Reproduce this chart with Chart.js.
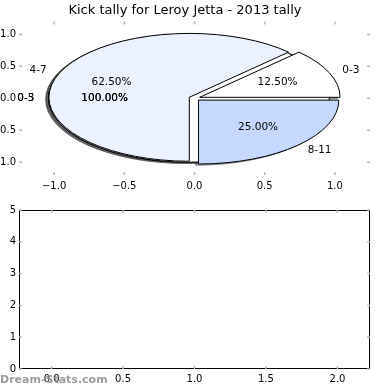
<!DOCTYPE html>
<html>
<head>
<meta charset="utf-8">
<script src="https://cdn.jsdelivr.net/npm/chart.js@4"></script>
<style>
  html, body { margin: 0; padding: 0; background: #fff; }
  canvas { display: block; }
</style>
</head>
<body>
<canvas id="pieChart" width="390" height="200"></canvas>
<canvas id="emptyChart" width="390" height="190"></canvas>
<script>
// ---- data ----
const chartTitle = 'Kick tally for Leroy Jetta - 2013 tally';
const categories = ['0-3', '4-7', '8-11'];
const kicks = [1, 5, 2];
const overlayCategories = ['0-3', '0-5'];   // single-slice pies drawn underneath
const overlayKicks = [1, 1];
const sliceColors = ['#ffffff', '#ebf1ff', '#c6d8ff'];
const pieXTicks = [-1.0, -0.5, 0.0, 0.5, 1.0];
const pieYTicks = [-1.0, -0.5, 0.0, 0.5, 1.0];
const lowerXTicks = [0.0, 0.5, 1.0, 1.5, 2.0];
const lowerYTicks = [0, 1, 2, 3, 4, 5];
const watermark = 'Dream-Stats.com';

const FONT = 'DejaVu Sans';
Chart.defaults.font.family = FONT;
Chart.defaults.color = '#000';

const fmt1 = v => (v < 0 ? '\u2212' : '') + Math.abs(v).toFixed(1);

// pies in drawing order
const pies = [];
overlayCategories.forEach((c, i) => pies.push({ labels: [c], values: [overlayKicks[i]], colors: sliceColors }));
pies.push({ labels: categories, values: kicks, colors: sliceColors });

const EXPLODE = 0.04, SHADOW = 0.02;

function shade(hex) {
  const r = parseInt(hex.slice(1, 3), 16), g = parseInt(hex.slice(3, 5), 16), b = parseInt(hex.slice(5, 7), 16);
  return `rgba(${Math.round(r * 0.3)},${Math.round(g * 0.3)},${Math.round(b * 0.3)},0.5)`;
}

const piePlugin = {
  id: 'ellipsePie',
  afterDatasetsDraw(chart) {
    const { ctx } = chart;
    const xs = chart.scales.x, ys = chart.scales.y;
    const px = v => xs.getPixelForValue(v), py = v => ys.getPixelForValue(v);
    const rx = px(1) - px(0), ry = py(0) - py(1);
    const wedges = [];
    pies.forEach(p => {
      const total = p.values.reduce((a, b) => a + b, 0);
      let start = 0;
      p.values.forEach((v, i) => {
        const span = 360 * v / total;
        const mid = (start + span / 2) * Math.PI / 180;
        wedges.push({
          cx: EXPLODE * Math.cos(mid), cy: EXPLODE * Math.sin(mid),
          t1: start * Math.PI / 180, t2: (start + span) * Math.PI / 180,
          full: span >= 360, mid, color: p.colors[i % p.colors.length],
          label: p.labels[i], pct: 100 * v / total
        });
        start += span;
      });
    });
    const path = (w, o) => {
      const X = px(w.cx + o), Y = py(w.cy + o);
      ctx.beginPath();
      if (w.full) {
        ctx.ellipse(X, Y, rx, ry, 0, 0, Math.PI * 2);
      } else {
        ctx.moveTo(X, Y);
        ctx.ellipse(X, Y, rx, ry, 0, -w.t1, -w.t2, true);
        ctx.closePath();
      }
    };
    ctx.save();
    ctx.lineWidth = 1;
    ctx.lineJoin = 'miter';
    wedges.forEach(w => {
      path(w, -SHADOW);
      ctx.fillStyle = shade(w.color); ctx.fill();
      ctx.strokeStyle = shade(w.color); ctx.stroke();
    });
    wedges.forEach(w => {
      path(w, 0);
      ctx.fillStyle = w.color; ctx.fill();
      ctx.strokeStyle = '#000'; ctx.stroke();
    });
    ctx.fillStyle = '#000';
    ctx.font = `10.5px "${FONT}"`;
    ctx.textBaseline = 'middle';
    wedges.forEach(w => {
      const lx = w.cx + 1.1 * Math.cos(w.mid), ly = w.cy + 1.1 * Math.sin(w.mid);
      ctx.textAlign = lx > 0 ? 'left' : 'right';
      ctx.fillText(w.label, px(lx), py(ly));
      const tx = w.cx + 0.6 * Math.cos(w.mid), ty = w.cy + 0.6 * Math.sin(w.mid);
      ctx.textAlign = 'center';
      ctx.fillText(w.pct.toFixed(2) + '%', px(tx), py(ty));
    });
    ctx.restore();
  }
};

function tickMarks(frame) {
  return {
    id: 'tickMarks',
    afterDraw(chart) {
      const { ctx, chartArea: a } = chart;
      const xs = chart.scales.x, ys = chart.scales.y;
      ctx.save();
      if (frame) {
        ctx.strokeStyle = '#000'; ctx.lineWidth = 1;
        ctx.strokeRect(Math.round(a.left) + 0.5, Math.round(a.top) + 0.5,
          Math.round(a.right - a.left) - 1, Math.round(a.bottom - a.top) - 1);
      }
      ctx.strokeStyle = '#b8b8b8'; ctx.lineWidth = 1.5;
      const L = 3;
      xs.ticks.forEach(t => {
        const X = xs.getPixelForValue(t.value);
        ctx.beginPath();
        ctx.moveTo(X, a.top); ctx.lineTo(X, a.top + L);
        ctx.moveTo(X, a.bottom); ctx.lineTo(X, a.bottom - L);
        ctx.stroke();
      });
      ys.ticks.forEach(t => {
        const Y = ys.getPixelForValue(t.value);
        ctx.beginPath();
        ctx.moveTo(a.left, Y); ctx.lineTo(a.left + L, Y);
        ctx.moveTo(a.right, Y); ctx.lineTo(a.right - L, Y);
        ctx.stroke();
      });
      ctx.restore();
    }
  };
}

function axis(min, max, ticks, fmt, size, pad, fixed) {
  return {
    type: 'linear', min, max,
    afterBuildTicks: s => { s.ticks = ticks.map(v => ({ value: v })); },
    afterFit: s => { if (s.isHorizontal()) s.height = fixed; else s.width = fixed; },
    grid: { display: false, drawTicks: false },
    border: { display: false },
    ticks: { padding: pad, autoSkip: false, maxRotation: 0, color: '#000',
             font: { family: FONT, size }, callback: v => fmt(v) }
  };
}

new Chart(document.getElementById('pieChart'), {
  type: 'scatter',
  data: { datasets: [{ data: [] }] },
  options: {
    responsive: false, animation: false, events: [],
    layout: { padding: { left: 0, right: 20, top: 0, bottom: 0 } },
    plugins: {
      legend: { display: false }, tooltip: { enabled: false },
      title: { display: true, text: chartTitle, color: '#000',
               font: { family: FONT, size: 13, weight: 'normal' }, padding: { top: 3, bottom: 3 } }
    },
    scales: {
      x: axis(-1.25, 1.25, pieXTicks, fmt1, 10, 5, 25),
      y: axis(-1.2, 1.2, pieYTicks, fmt1, 10, 3, 19)
    }
  },
  plugins: [piePlugin, tickMarks(false)]
});

const watermarkPlugin = {
  id: 'watermark',
  afterDraw(chart) {
    const { ctx } = chart;
    ctx.save();
    ctx.fillStyle = 'rgba(140,140,140,0.85)';
    ctx.font = `bold 11px "${FONT}"`;
    ctx.textAlign = 'left'; ctx.textBaseline = 'middle';
    ctx.fillText(watermark, 0, 180);
    ctx.restore();
  }
};

new Chart(document.getElementById('emptyChart'), {
  type: 'scatter',
  data: { datasets: [{ data: [] }] },
  options: {
    responsive: false, animation: false, events: [],
    layout: { padding: { left: 0, right: 20, top: 10, bottom: 0 } },
    plugins: { legend: { display: false }, tooltip: { enabled: false }, title: { display: false } },
    scales: {
      x: axis(-0.228, 2.228, lowerXTicks, fmt1, 10, 4, 21),
      y: axis(0, 5, lowerYTicks, v => String(v), 10, 3, 19)
    }
  },
  plugins: [tickMarks(true), watermarkPlugin]
});
</script>
</body>
</html>
